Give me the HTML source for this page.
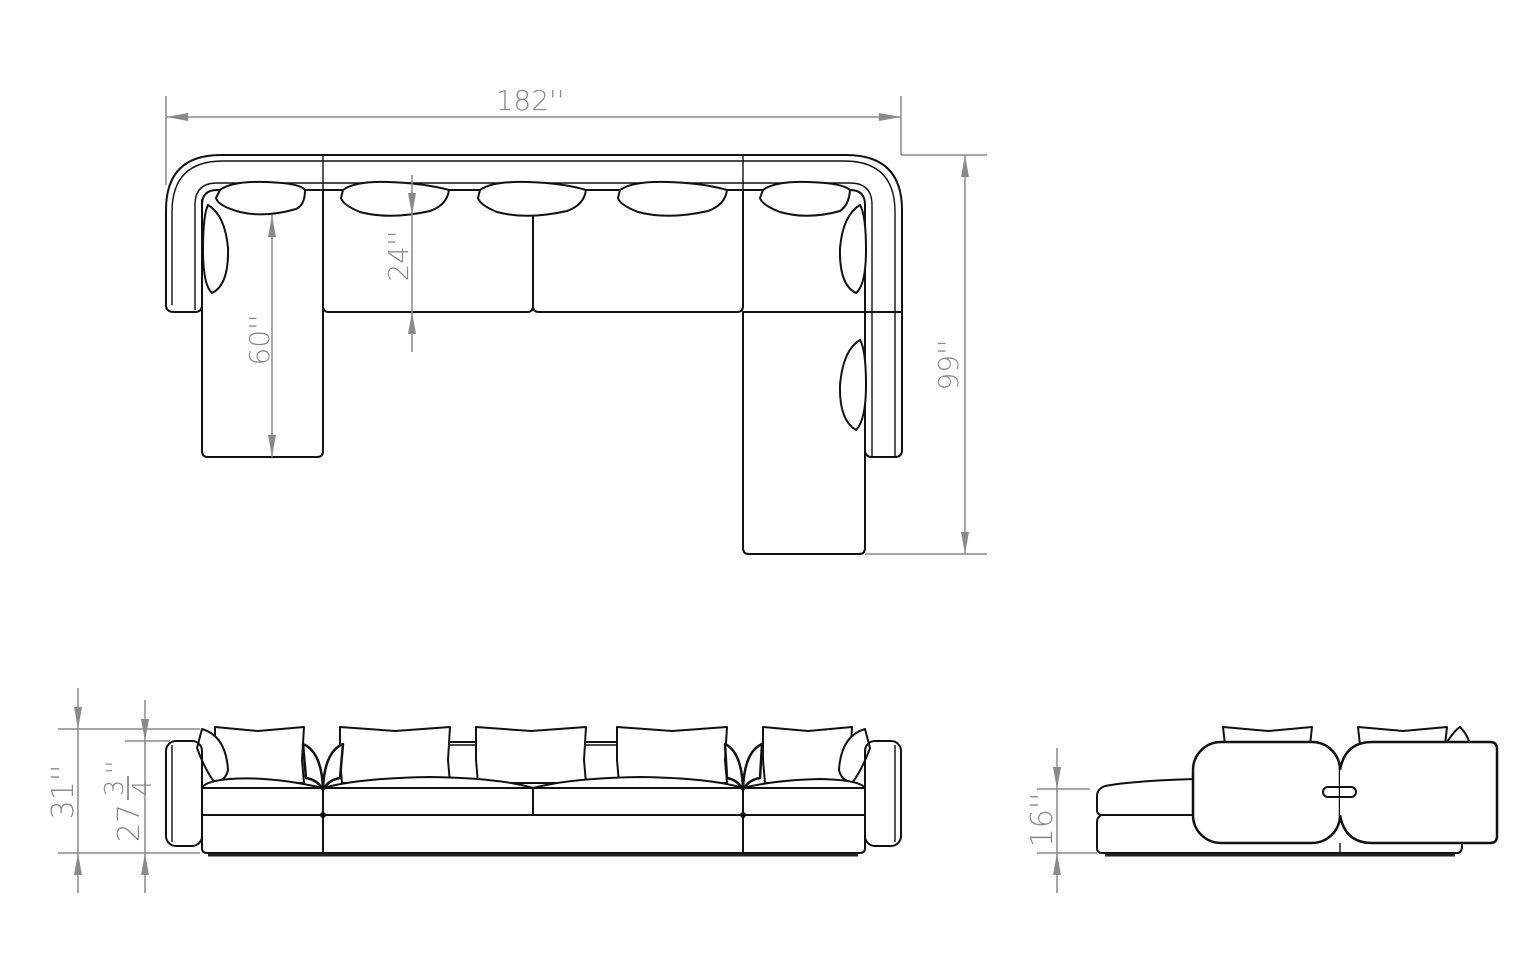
<!DOCTYPE html>
<html><head><meta charset="utf-8"><style>
html,body{margin:0;padding:0;background:#fff;}
svg{display:block;}
.k{fill:none;stroke:#111;stroke-width:2;stroke-linejoin:round;stroke-linecap:round;}
.kt{fill:none;stroke:#111;stroke-width:1.4;}
.d{fill:none;stroke:#8a8a8a;stroke-width:1.5;}
.a{fill:#8a8a8a;}
.t{fill:#8a8a8a;font-family:"DejaVu Sans","Liberation Sans",sans-serif;font-size:28px;font-weight:300;}
.pw{fill:#fff;stroke:#111;stroke-width:2;stroke-linejoin:round;}
</style></head><body>
<svg width="1536" height="970" viewBox="0 0 1536 970" xmlns="http://www.w3.org/2000/svg">
<line class="d" x1="166" y1="96" x2="166" y2="185"/>
<line class="d" x1="901" y1="96" x2="901" y2="155"/>
<line class="d" x1="166" y1="117" x2="901" y2="117"/>
<polygon class="a" points="166,117 188,113 188,121"/>
<polygon class="a" points="901,117 879,113 879,121"/>
<text class="t" x="530" y="110" text-anchor="middle">182''</text>

<path class="k" d="M166,305 L166,210 Q166,155 221,155 L846,155 Q902,155 902,210 L902,450 Q902,457 895,457 L872,457 Q865,457 865,450"/>
<path class="kt" d="M172,305 L172,212 Q172,161 223,161 L844,161 Q895,161 895,212 L895,456"/>
<path class="k" d="M166,305 Q166,312 174,312 L195,312 Q202,312 202,305"/>
<path class="kt" d="M195,310 L195,205 Q195,183 217,183 L850,183 Q872,183 872,205 L872,456"/>
<path class="k" d="M202,312 L202,205 Q202,190 217,190 L850,190 Q865,190 865,205 L865,312"/>
<line class="kt" x1="323" y1="155" x2="323" y2="190"/>
<line class="kt" x1="743" y1="155" x2="743" y2="190"/>
<path class="k" d="M202,200 L202,451 Q202,457 208,457 L317,457 Q323,457 323,451 L323,190"/>
<path class="k" d="M323,190 L323,306 Q323,312 329,312 L527,312 Q533,312 533,306 L533,215"/>
<path class="k" d="M533,215 L533,306 Q533,312 539,312 L737,312 Q743,312 743,306 L743,190"/>
<path class="k" d="M743,312 L865,312"/>
<path class="k" d="M865,312 L902,312"/>
<path class="k" d="M743,312 L743,548 Q743,554 749,554 L859,554 Q865,554 865,548 L865,312"/>
<g>
<path class="pw" d="M220,190 Q232,181 265,182 Q300,183 305,190 Q305,205 296,209 Q265,218 240,212 Q218,206 216,198 Z"/>
<path class="pw" d="M343,190 Q355,181 388,182 Q423,183 449,190 Q447,205 430,211 Q390,220 360,212 Q343,205 341,198 Z"/>
<path class="pw" d="M480,190 Q492,181 528,182 Q563,183 586,190 Q584,205 567,211 Q527,220 497,212 Q480,205 478,198 Z"/>
<path class="pw" d="M620,190 Q632,181 668,182 Q703,183 727,190 Q725,205 708,211 Q668,220 638,212 Q620,205 618,198 Z"/>
<path class="pw" d="M763,190 Q775,181 808,182 Q843,183 850,190 Q849,205 840,211 Q808,220 780,212 Q762,205 760,198 Z"/>
</g>
<path class="pw" d="M208,205 Q225,215 228,248 Q229,285 212,293 Q203,285 203,250 Q203,215 208,205 Z"/>
<path class="pw" d="M860,205 Q843,215 840,248 Q839,285 856,293 Q866,285 866,250 Q866,215 860,205 Z"/>
<path class="pw" d="M860,340 Q843,350 840,385 Q839,420 856,430 Q866,420 866,385 Q866,350 860,340 Z"/>

<line class="d" x1="412" y1="175" x2="412" y2="352"/>
<polygon class="a" points="412,215 408,193 416,193"/>
<polygon class="a" points="412,312 408,334 416,334"/>
<text class="t" transform="translate(408,256) rotate(-90)" text-anchor="middle">24''</text>
<line class="d" x1="272" y1="215" x2="272" y2="457"/>
<polygon class="a" points="272,215 268,237 276,237"/>
<polygon class="a" points="272,457 268,435 276,435"/>
<text class="t" transform="translate(269,340) rotate(-90)" text-anchor="middle">60''</text>
<line class="d" x1="901" y1="155" x2="987" y2="155"/>
<line class="d" x1="865" y1="554" x2="987" y2="554"/>
<line class="d" x1="965" y1="155" x2="965" y2="554"/>
<polygon class="a" points="965,155 961,177 969,177"/>
<polygon class="a" points="965,554 961,532 969,532"/>
<text class="t" transform="translate(958,365) rotate(-90)" text-anchor="middle">99''</text>

<line class="d" x1="58" y1="729" x2="200" y2="729"/>
<line class="d" x1="125" y1="741" x2="170" y2="741"/>
<line class="d" x1="58" y1="853" x2="200" y2="853"/>
<line class="d" x1="78" y1="688" x2="78" y2="893"/>
<polygon class="a" points="78,729 74,707 82,707"/>
<polygon class="a" points="78,853 74,875 82,875"/>
<line class="d" x1="145" y1="700" x2="145" y2="893"/>
<polygon class="a" points="145,741 141,719 149,719"/>
<polygon class="a" points="145,853 141,875 149,875"/>
<text class="t" transform="translate(73,792) rotate(-90)" text-anchor="middle" style="font-size:30px">31''</text>
<g transform="translate(139,800) rotate(-90)">
<text class="t" x="-4" y="0" text-anchor="end" style="font-size:30px">27</text>
<text class="t" x="12" y="-16" text-anchor="middle" style="font-size:26px">3</text>
<line x1="0" y1="-11" x2="24" y2="-11" stroke="#8a8a8a" stroke-width="1.8"/>
<text class="t" x="12" y="12" text-anchor="middle" style="font-size:26px">4</text>
<text class="t" x="26" y="-16" style="font-size:24px">''</text>
</g>

<path class="k" d="M450,742 L476,742 M586,742 L617,742"/>
<line class="kt" x1="450" y1="745" x2="476" y2="745"/>
<line class="kt" x1="586" y1="745" x2="617" y2="745"/>
<path class="pw" d="M215,727 L258,731 L304,727 L302,760 L304,783 L217,783 L215,760 Z"/>
<path class="pw" d="M340,727 L395,731 L450,727 L448,760 L450,783 L342,783 L340,760 Z"/>
<path class="pw" d="M476,727 L531,731 L586,727 L584,760 L586,783 L478,783 L476,760 Z"/>
<path class="pw" d="M617,727 L672,731 L727,727 L725,760 L727,783 L619,783 L617,760 Z"/>
<path class="pw" d="M763,727 L808,731 L852,727 L850,760 L852,783 L765,783 L763,760 Z"/>
<path class="pw" style="stroke-width:2.5" d="M303,744 Q322,752 323,790 Q318,780 306,778 Z"/>
<path class="pw" style="stroke-width:2.5" d="M343,744 Q324,752 323,790 Q328,780 340,778 Z"/>
<path class="pw" style="stroke-width:2.5" d="M725,744 Q742,752 743,790 Q738,780 727,778 Z"/>
<path class="pw" style="stroke-width:2.5" d="M762,744 Q744,752 743,790 Q748,780 760,778 Z"/>
<path class="pw" d="M202,729 Q226,736 228,770 Q226,780 215,783 Q205,770 197,748 Z"/>
<path class="pw" d="M865,729 Q841,736 839,770 Q841,780 852,783 Q862,770 870,748 Z"/>
<rect class="k" x="166" y="741" width="36" height="105" rx="10" fill="#fff"/>
<line class="kt" x1="172" y1="745" x2="172" y2="842"/>
<rect class="k" x="865" y="741" width="36" height="105" rx="10" fill="#fff"/>
<line class="kt" x1="895" y1="745" x2="895" y2="842"/>
<path class="pw" d="M202,788 Q205,781 230,779 Q270,776 323,788 Z"/>
<path class="pw" d="M323,788 Q360,778 430,777 Q500,778 533,788 Z"/>
<path class="pw" d="M533,788 Q570,778 640,777 Q710,778 743,788 Z"/>
<path class="pw" d="M743,788 Q775,780 820,779 Q860,780 865,788 Z"/>
<rect class="k" x="202" y="788" width="663" height="27" fill="#fff"/>
<path class="k" d="M202,815 L202,848 Q202,853 207,853 L860,853 Q865,853 865,848 L865,815"/>
<line class="k" x1="323" y1="788" x2="323" y2="853"/>
<line class="k" x1="533" y1="788" x2="533" y2="815"/>
<line class="k" x1="743" y1="788" x2="743" y2="853"/>
<line x1="208" y1="855" x2="858" y2="855" stroke="#222" stroke-width="3"/>
<circle cx="323" cy="815" r="3" fill="#111"/><circle cx="743" cy="815" r="3" fill="#111"/>

<line class="d" x1="1037" y1="789" x2="1090" y2="789"/>
<line class="d" x1="1037" y1="853" x2="1097" y2="853"/>
<line class="d" x1="1057" y1="748" x2="1057" y2="893"/>
<polygon class="a" points="1057,789 1053,767 1061,767"/>
<polygon class="a" points="1057,853 1053,875 1061,875"/>
<text class="t" transform="translate(1052,820) rotate(-90)" text-anchor="middle" style="font-size:30px">16''</text>
<path class="pw" d="M1223,727 L1268,731 L1312,727 L1310,745 L1225,745 Z"/>
<path class="pw" d="M1358,727 L1403,731 L1447,727 L1445,745 L1360,745 Z"/>
<path class="pw" d="M1447,742 Q1455,730 1460,727 Q1468,735 1470,745 Z"/>
<path class="k" d="M1195,779 Q1130,781 1105,786 Q1097,789 1097,796 L1097,810 Q1097,815 1102,815 L1195,815"/>
<path class="k" d="M1100,816 Q1097,818 1097,822 L1097,848 Q1097,853 1102,853 L1457,853 Q1462,853 1462,846 L1462,843"/>
<line x1="1105" y1="855" x2="1455" y2="855" stroke="#222" stroke-width="3"/>
<line class="kt" x1="1340" y1="843" x2="1340" y2="853"/>
<rect x="1193" y="742" width="147" height="101" rx="28" fill="#fff" stroke="#111" stroke-width="2.5"/>
<path d="M1340,770 Q1345,742 1372,742 L1490,742 Q1497,742 1497,749 L1497,836 Q1497,843 1490,843 L1372,843 Q1345,843 1340,815" fill="#fff" stroke="#111" stroke-width="2.5"/>
<rect class="k" x="1323" y="787" width="33" height="10" rx="5" fill="#fff"/>
</svg>
</body></html>
